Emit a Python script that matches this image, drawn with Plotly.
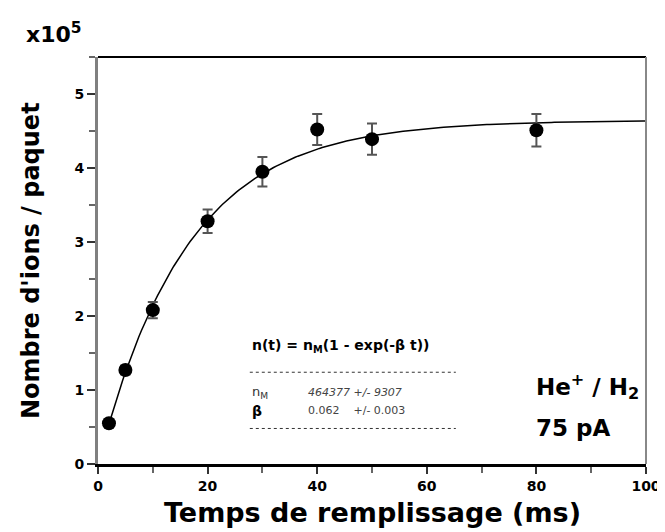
import numpy as np
import plotly.graph_objects as go

# Data (y in units of 1e5)
t_ms = [2, 5, 10, 20, 30, 40, 50, 80]
n_ions = [0.55, 1.27, 2.08, 3.28, 3.95, 4.52, 4.39, 4.51]
n_err = [0.04, 0.06, 0.11, 0.16, 0.20, 0.21, 0.21, 0.22]

# Fit parameters shown on the chart
n_M = 464377
beta = 0.062
fit_t_start = 2
fit_t_end = 100

fit_t = np.linspace(fit_t_start, fit_t_end, 200)
fit_n = n_M * (1 - np.exp(-beta * fit_t)) / 1e5

x_ticks = [0, 20, 40, 60, 80, 100]
y_ticks = [0, 1, 2, 3, 4, 5]

FONT = "DejaVu Sans, Arial, sans-serif"

fig = go.Figure()
fig.add_trace(go.Scatter(
    x=fit_t, y=fit_n, mode="lines",
    line=dict(color="black", width=1.5), hoverinfo="skip", showlegend=False))
fig.add_trace(go.Scatter(
    x=t_ms, y=n_ions, mode="markers",
    marker=dict(color="black", size=14),
    error_y=dict(type="data", array=n_err, visible=True, color="#555", thickness=2, width=5),
    showlegend=False))

fig.update_layout(
    width=665, height=532,
    margin=dict(l=90, r=16, t=49, b=76),
    paper_bgcolor="white", plot_bgcolor="white",
    font=dict(family=FONT, color="black"),
    xaxis=dict(range=[0, 100], tickvals=x_ticks, ticktext=[str(v) for v in x_ticks],
               showgrid=False, zeroline=False, showline=True, linecolor="black", linewidth=3,
               ticks="outside", ticklen=7, tickwidth=2, tickcolor="#333",
               minor=dict(dtick=10, ticks="outside", ticklen=6, tickwidth=2, tickcolor="#666", showgrid=False),
               tickfont=dict(size=14, family=FONT, weight="bold")),
    yaxis=dict(range=[0, 5.5], tickvals=y_ticks, ticktext=[str(v) for v in y_ticks],
               showgrid=False, zeroline=False, showline=True, linecolor="#808080", linewidth=3,
               ticks="outside", ticklen=8, tickwidth=2, tickcolor="#333",
               minor=dict(dtick=0.5, ticks="outside", ticklen=6, tickwidth=2, tickcolor="#666", showgrid=False),
               tickfont=dict(size=14, family=FONT, weight="bold")),
)

# frame top and right
fig.add_shape(type="line", xref="paper", yref="paper", x0=0, x1=1, y0=1, y1=1,
              line=dict(color="black", width=2))
fig.add_shape(type="line", xref="paper", yref="paper", x0=1, x1=1, y0=0, y1=1,
              line=dict(color="#888", width=2))

# axis titles
fig.add_annotation(xref="paper", yref="paper", x=0.5, y=-0.118, xanchor="center", yanchor="middle",
                   text="<b>Temps de remplissage (ms)</b>", showarrow=False, font=dict(size=27))
fig.add_annotation(xref="paper", yref="paper", x=-0.123, y=0.5, xanchor="center", yanchor="middle",
                   textangle=-90, text="<b>Nombre d'ions / paquet</b>", showarrow=False, font=dict(size=24))

# x10^5 label
fig.add_annotation(xref="paper", yref="paper", x=-0.135, y=1.02, xanchor="left", yanchor="bottom",
                   text="<b>x10<sup>5</sup></b>", showarrow=False, font=dict(size=22))

# Fit box
box_x = 27.7
val_x = 37.9
fig.add_annotation(x=box_x, y=1.6, xanchor="left", yanchor="middle", showarrow=False,
                   text="<b>n(t) = n<sub>M</sub>(1 - exp(-β t))</b>", font=dict(size=14))
fig.add_shape(type="line", x0=box_x, x1=65.3, y0=1.24, y1=1.24,
              line=dict(color="#333", width=1, dash="dot"))
fig.add_annotation(x=box_x, y=0.97, xanchor="left", yanchor="middle", showarrow=False,
                   text="n<sub>M</sub>", font=dict(size=13, color="#333"))
fig.add_annotation(x=val_x, y=0.97, xanchor="left", yanchor="middle", showarrow=False,
                   text="<i>464377 +/- 9307</i>", font=dict(size=11, color="#444"))
fig.add_annotation(x=box_x, y=0.72, xanchor="left", yanchor="middle", showarrow=False,
                   text="<b>β</b>", font=dict(size=14))
fig.add_annotation(x=val_x, y=0.72, xanchor="left", yanchor="middle", showarrow=False,
                   text="0.062    +/- 0.003", font=dict(size=11, color="#444"))
fig.add_shape(type="line", x0=box_x, x1=65.3, y0=0.48, y1=0.48,
              line=dict(color="#333", width=1, dash="dot"))

# He+/H2 and 75 pA
fig.add_annotation(x=79.6, y=1.05, xanchor="left", yanchor="middle", showarrow=False,
                   text="<b>He<sup>+</sup> / H<sub>2</sub></b>", font=dict(size=23))
fig.add_annotation(x=79.6, y=0.48, xanchor="left", yanchor="middle", showarrow=False,
                   text="<b>75 pA</b>", font=dict(size=23))

fig.write_html("out.html")
